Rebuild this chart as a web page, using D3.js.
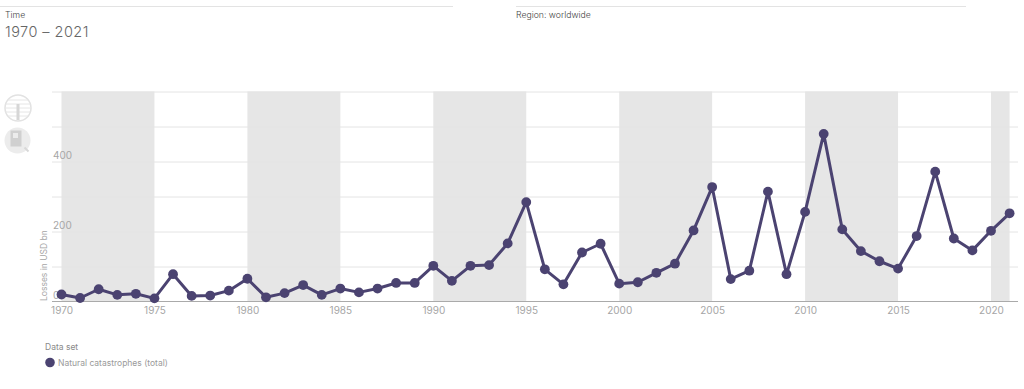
<!DOCTYPE html>
<html>
<head>
<meta charset="utf-8">
<script src="https://cdn.jsdelivr.net/npm/d3@7"></script>
<style>
  html, body { margin: 0; padding: 0; background: #fff; }
  svg { display: block; font-family: Inter, Lato, sans-serif; }
</style>
</head>
<body>
<div id="chart"></div>
<script>
// Values, losses in USD bn
const years = [
  1970, 1971, 1972, 1973, 1974, 1975, 1976, 1977, 1978, 1979,
  1980, 1981, 1982, 1983, 1984, 1985, 1986, 1987, 1988, 1989,
  1990, 1991, 1992, 1993, 1994, 1995, 1996, 1997, 1998, 1999,
  2000, 2001, 2002, 2003, 2004, 2005, 2006, 2007, 2008, 2009,
  2010, 2011, 2012, 2013, 2014, 2015, 2016, 2017, 2018, 2019,
  2020, 2021
];
const losses = [
  20, 10, 35, 19, 22, 9, 78, 16, 17, 31,
  65, 12, 24, 47, 19, 37, 26, 37, 53, 53,
  102, 59, 102, 104, 166, 284, 92, 49, 140, 165,
  51, 55, 82, 108, 203, 327, 64, 88, 314, 78,
  256, 479, 206, 144, 115, 94, 187, 371, 180, 146,
  202, 252
];
const bands = [[1970, 1975], [1980, 1985], [1990, 1995], [2000, 2005], [2010, 2015], [2020, 2021]];
const xTicks = [1970, 1975, 1980, 1985, 1990, 1995, 2000, 2005, 2010, 2015, 2020];
const yGrid = [100, 200, 300, 400, 500, 600];
const yLabels = [0, 200, 400];

const width = 1024;
const height = 389;
const purple = "#4b4371";

const svg = d3.select("#chart").append("svg")
  .attr("width", width)
  .attr("height", height);

const x = d3.scaleLinear().domain([1970, 2020]).range([61.5, 991]);
const y = d3.scaleLinear().domain([0, 600]).range([301.5, 91.5]);

// Header rules and text
[[0, 453], [516, 966]].forEach(([a, b]) => {
  svg.append("line").attr("x1", a).attr("x2", b).attr("y1", 6.5).attr("y2", 6.5)
    .attr("stroke", "#e3e3e3");
});
svg.append("text").attr("x", 5).attr("y", 18).attr("font-size", 8.7).attr("font-weight", 300).attr("fill", "#444").text("Time");
svg.append("text").attr("x", 5).attr("y", 36.5).attr("font-size", 14.5).attr("font-weight", 300).attr("fill", "#666")
  .attr("letter-spacing", 0.45).text("1970 – 2021");
svg.append("text").attr("x", 516).attr("y", 18).attr("font-size", 8.7).attr("font-weight", 300).attr("fill", "#444").text("Region: worldwide");

// Grey bands every other five years
svg.append("g").selectAll("rect")
  .data(bands)
  .join("rect")
  .attr("x", (d) => x(d[0]))
  .attr("y", y(600))
  .attr("width", (d) => x(d[1]) - x(d[0]))
  .attr("height", y(0) - y(600))
  .attr("fill", "#e6e6e6");

// Gridlines as an axis with no labels
const grid = svg.append("g").attr("transform", "translate(52, 0)")
  .call(d3.axisRight(y).tickValues(yGrid).tickFormat("").tickSize(966));
grid.select(".domain").remove();
grid.selectAll("line").attr("stroke", "#e4e4e4");

// Y labels sit on top of their gridlines
const yAxis = svg.append("g").attr("transform", "translate(53, 0)")
  .call(d3.axisRight(y).tickValues(yLabels).tickSize(0).tickPadding(0));
yAxis.select(".domain").remove();
yAxis.selectAll("text")
  .attr("dy", "-0.35em")
  .attr("font-family", "Inter, Lato, sans-serif")
  .attr("font-size", 10)
  .attr("fill", "#a6a6a6");

// X axis
const xAxis = svg.append("g").attr("transform", `translate(0, ${y(0)})`)
  .call(d3.axisBottom(x).tickValues(xTicks).tickFormat(d3.format("d")).tickSize(0).tickPadding(5));
xAxis.select(".domain").remove();
xAxis.selectAll("text")
  .attr("font-family", "Inter, Lato, sans-serif")
  .attr("font-size", 10)
  .attr("fill", "#a6a6a6");
svg.append("line").attr("x1", 52).attr("x2", 1018).attr("y1", y(0)).attr("y2", y(0))
  .attr("stroke", "#aaa");

svg.append("text")
  .attr("transform", "translate(47, 301) rotate(-90)")
  .attr("font-size", 8.5)
  .attr("fill", "#a6a6a6")
  .text("Losses in USD bn");

// Line and dots
const line = d3.line().x((d, i) => x(years[i])).y((d) => y(d));
svg.append("path")
  .attr("d", line(losses))
  .attr("fill", "none")
  .attr("stroke", purple)
  .attr("stroke-width", 3)
  .attr("stroke-linejoin", "round");
svg.append("g").selectAll("circle")
  .data(losses)
  .join("circle")
  .attr("cx", (d, i) => x(years[i]))
  .attr("cy", (d) => y(d))
  .attr("r", 4.9)
  .attr("fill", purple);

// Legend
svg.append("text").attr("x", 45).attr("y", 350).attr("font-size", 8.5).attr("fill", "#8a8a8a").text("Data set");
svg.append("circle").attr("cx", 50).attr("cy", 362.5).attr("r", 4.8).attr("fill", purple);
svg.append("text").attr("x", 58).attr("y", 366).attr("font-size", 8.5).attr("fill", "#9a9a9a").text("Natural catastrophes (total)");

// Faded icons on the left
const globe = svg.append("g").attr("transform", "translate(18, 108)");
globe.append("circle").attr("r", 13).attr("fill", "#fff").attr("stroke", "#e2e2e2").attr("stroke-width", 1.5);
[-8, -4, 0, 4, 8].forEach((dy) => {
  const half = Math.sqrt(169 - dy * dy);
  globe.append("line").attr("x1", -half).attr("x2", half).attr("y1", dy).attr("y2", dy)
    .attr("stroke", "#e6e6e6");
});
globe.append("rect").attr("x", -1.5).attr("y", -4).attr("width", 3).attr("height", 16).attr("fill", "#d6d6d6");

const lens = svg.append("g").attr("transform", "translate(17.5, 140.5)");
lens.append("circle").attr("r", 13).attr("fill", "#ececec");
lens.append("rect").attr("x", -7).attr("y", -10).attr("width", 11).attr("height", 16).attr("fill", "#d0d0d0");
lens.append("rect").attr("x", -4.5).attr("y", -7.5).attr("width", 5).attr("height", 5).attr("fill", "#ececec");
lens.append("line").attr("x1", 7).attr("x2", 11).attr("y1", 7).attr("y2", 11).attr("stroke", "#d8d8d8").attr("stroke-width", 2);
</script>
</body>
</html>
